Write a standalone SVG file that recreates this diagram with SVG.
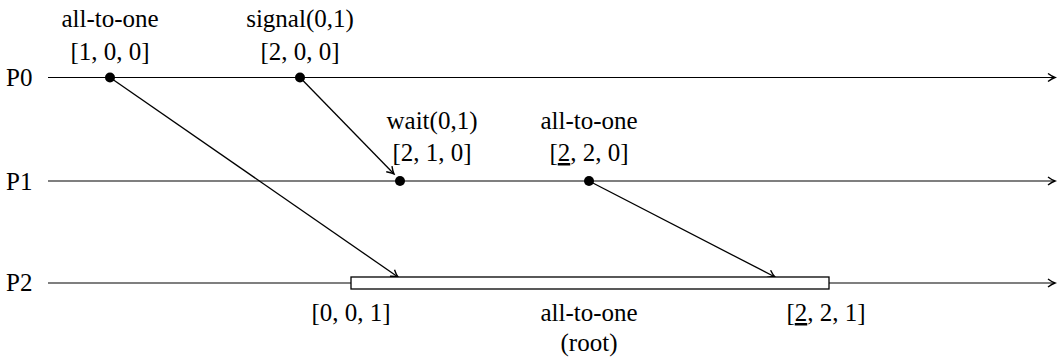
<svg xmlns="http://www.w3.org/2000/svg" width="1059" height="361" viewBox="0 0 1059 361">
<style>
text{font-family:'Liberation Serif','Times New Roman',serif;font-size:25px;fill:#000}
.m{text-anchor:middle}
.tl{stroke:#000;stroke-width:1.2;fill:none}
.ar{stroke:#000;stroke-width:1.3;fill:none}
.u{text-decoration:underline}
</style>
<defs>
<marker id="ah" viewBox="-8 -5 10 10" markerWidth="10" markerHeight="10" refX="0" refY="0" orient="auto" markerUnits="userSpaceOnUse">
<path d="M-7,-4 Q-3,-1 0,0 Q-3,1 -7,4" fill="none" stroke="#000" stroke-width="1.4"/>
</marker>
</defs>
<g id="timelines">
<g id="P0"><text x="6" y="86">P0</text><line class="tl" x1="48" y1="77.5" x2="1055" y2="77.5" marker-end="url(#ah)"/></g>
<g id="P1"><text x="6" y="190">P1</text><line class="tl" x1="48" y1="181" x2="1055" y2="181" marker-end="url(#ah)"/></g>
<g id="P2"><text x="6" y="291">P2</text><line class="tl" x1="48" y1="283" x2="1055" y2="283" marker-end="url(#ah)"/></g>
</g>
<g id="connectors">
<line class="ar" x1="110" y1="77.5" x2="398" y2="277" marker-end="url(#ah)"/>
<line class="ar" x1="300" y1="77.5" x2="394" y2="174" marker-end="url(#ah)"/>
<line class="ar" x1="589" y1="181" x2="775" y2="277" marker-end="url(#ah)"/>
</g>
<g id="e1"><circle cx="110" cy="77.5" r="5"/><text class="m" x="110" y="27">all-to-one</text><text class="m" x="110" y="60">[1, 0, 0]</text></g>
<g id="e2"><circle cx="300" cy="77.5" r="5"/><text class="m" x="300" y="27">signal(0,1)</text><text class="m" x="300" y="60">[2, 0, 0]</text></g>
<g id="e3"><circle cx="400" cy="181" r="5"/><text class="m" x="432" y="129">wait(0,1)</text><text class="m" x="432" y="161">[2, 1, 0]</text></g>
<g id="e4"><circle cx="589" cy="181" r="5"/><text class="m" x="589" y="129">all-to-one</text><text class="m" x="589" y="161">[<tspan class="u">2</tspan>, 2, 0]</text></g>
<g id="root"><rect x="351" y="277" width="478" height="12" fill="#fff" stroke="#000" stroke-width="1.3"/>
<text class="m" x="351" y="321">[0, 0, 1]</text>
<text class="m" x="589" y="321">all-to-one</text>
<text class="m" x="589" y="351">(root)</text>
<text class="m" x="826" y="321">[<tspan class="u">2</tspan>, 2, 1]</text></g>
</svg>
